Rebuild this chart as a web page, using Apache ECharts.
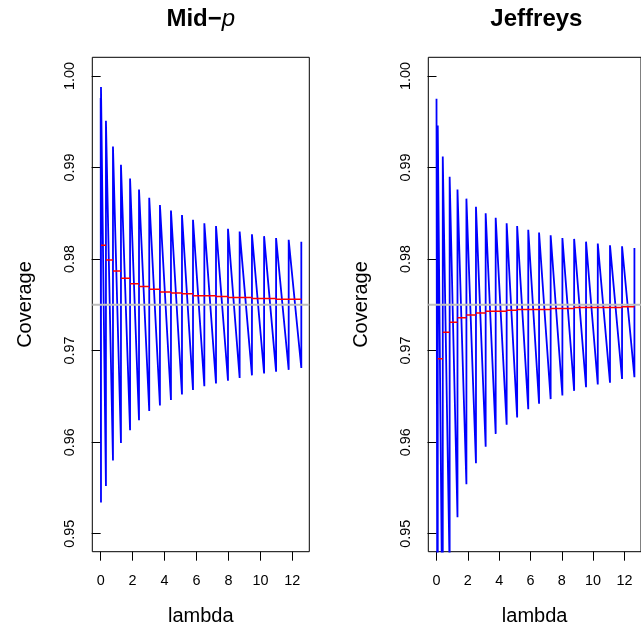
<!DOCTYPE html>
<html>
<head>
<meta charset="utf-8">
<script src="https://cdn.jsdelivr.net/npm/echarts@6/dist/echarts.min.js"></script>
<style>
  html, body { margin: 0; padding: 0; background: #fff; }
  #chart { width: 641px; height: 632px; }
</style>
</head>
<body>
<div id="chart"></div>
<script>
// Axis ticks shared by both panels
const xTicks = [0, 2, 4, 6, 8, 10, 12];
const yTicks = [0.95, 0.96, 0.97, 0.98, 0.99, 1.00];

// Mid-p interval: coverage jumps (lambda), value just before and just after each jump
const midpStart = 0.9976;
const midpJumps = [0.02, 0.33, 0.77, 1.27, 1.84, 2.40, 3.04, 3.71, 4.40, 5.09,
                   5.78, 6.49, 7.22, 7.97, 8.70, 9.47, 10.23, 10.98, 11.77, 12.56];
const midpTroughs = [0.9534, 0.9552, 0.9580, 0.9599, 0.9613, 0.9624, 0.9634, 0.9640, 0.9646, 0.9652,
                     0.9657, 0.9661, 0.9664, 0.9667, 0.9670, 0.9673, 0.9675, 0.9677, 0.9679, 0.9681];
const midpPeaks = [0.9988, 0.9951, 0.9923, 0.9903, 0.9888, 0.9876, 0.9867, 0.9859, 0.9853, 0.9848,
                   0.9843, 0.9839, 0.9836, 0.9833, 0.9830, 0.9827, 0.9825, 0.9823, 0.9821, 0.9819];
// Mid-p average coverage between consecutive jumps (first piece starts at lambda = 0)
const midpAvg = [0.9753, 0.9815, 0.9799, 0.9787, 0.9779, 0.9773, 0.9770, 0.9767, 0.9764, 0.9763,
                 0.9762, 0.9760, 0.9760, 0.9759, 0.9758, 0.9758, 0.9757, 0.9757, 0.9756, 0.9756];

// Jeffreys interval
const jeffStart = 0.9975;
const jeffJumps = [0.08, 0.40, 0.84, 1.34, 1.91, 2.52, 3.14, 3.78, 4.48, 5.15,
                   5.86, 6.55, 7.29, 8.04, 8.79, 9.55, 10.30, 11.08, 11.85, 12.64];
const jeffTroughs = [0.900, 0.935, 0.946, 0.9518, 0.9554, 0.9577, 0.9595, 0.9609, 0.9619, 0.9627,
                     0.9636, 0.9642, 0.9647, 0.9651, 0.9656, 0.9660, 0.9663, 0.9665, 0.9669, 0.9671];
const jeffPeaks = [0.9946, 0.9912, 0.9890, 0.9876, 0.9866, 0.9857, 0.9850, 0.9845, 0.9839, 0.9836,
                   0.9832, 0.9829, 0.9826, 0.9823, 0.9822, 0.9819, 0.9817, 0.9815, 0.9814, 0.9812];
const jeffAvg = [0.9691, 0.9720, 0.9731, 0.9736, 0.9739, 0.9741, 0.9743, 0.9743, 0.9744, 0.9745,
                 0.9745, 0.9745, 0.9746, 0.9746, 0.9747, 0.9747, 0.9747, 0.9747, 0.9748];

const nominal = 0.975;
const xMin = -0.524, xMax = 13.06;

// Sawtooth: decline between jumps, vertical rise at each jump
function sawtooth(start, jumps, troughs, peaks) {
  const d = [[0, start]];
  for (let i = 0; i < jumps.length; i++) {
    d.push([jumps[i], troughs[i]], [jumps[i], peaks[i]]);
  }
  return d;
}
// Horizontal pieces only, broken between intervals
function steps(edges, vals) {
  const d = [];
  for (let i = 0; i < vals.length; i++) {
    d.push([edges[i], vals[i]], [edges[i + 1], vals[i]], [edges[i + 1], '-']);
  }
  return d;
}

const FONT = 'Liberation Sans, Arial, Helvetica, sans-serif';
const gridTop = 57.3, gridH = 494.4, gridW = 217;
const lefts = [92.3, 428.3];

function xAxis(i) {
  return {
    type: 'value', gridIndex: i, min: xMin, max: xMax,
    name: 'lambda', nameLocation: 'middle', nameGap: 55,
    nameTextStyle: { fontFamily: FONT, fontSize: 20, color: '#000' },
    axisLine: { show: false },
    splitLine: { show: false },
    axisTick: { show: true, inside: false, length: 9, customValues: xTicks,
                lineStyle: { color: '#000', width: 1 } },
    axisLabel: { customValues: xTicks, margin: 22, fontFamily: FONT, fontSize: 14.4, color: '#000' }
  };
}
function yAxis(i) {
  return {
    type: 'value', gridIndex: i, min: 0.94803, max: 1.00204,
    name: 'Coverage', nameLocation: 'middle', nameGap: 57, nameRotate: 90,
    nameTextStyle: { fontFamily: FONT, fontSize: 20, color: '#000' },
    axisLine: { show: false },
    splitLine: { show: false },
    axisTick: { show: true, inside: false, length: 9, customValues: yTicks,
                lineStyle: { color: '#000', width: 1 } },
    axisLabel: { customValues: yTicks, rotate: 90, margin: 15, fontFamily: FONT, fontSize: 14.4,
                 color: '#000', formatter: v => v.toFixed(2) }
  };
}

function panelSeries(i, blue, red) {
  return [
    { type: 'line', xAxisIndex: i, yAxisIndex: i, data: blue, showSymbol: false, symbol: 'none',
      lineStyle: { color: '#0000ff', width: 1.8 }, z: 2, clip: true, animation: false },
    { type: 'line', xAxisIndex: i, yAxisIndex: i, data: red, showSymbol: false, symbol: 'none',
      connectNulls: false, lineStyle: { color: '#ff0000', width: 1.5 }, z: 3, clip: true, animation: false },
    // reference level across the full panel
    { type: 'line', xAxisIndex: i, yAxisIndex: i, data: [[xMin, nominal], [xMax, nominal]],
      showSymbol: false, symbol: 'none', lineStyle: { color: '#bebebe', width: 2 },
      z: 4, clip: true, animation: false }
  ];
}

const chart = echarts.init(document.getElementById('chart'), null, { renderer: 'canvas' });
chart.setOption({
  backgroundColor: '#fff',
  animation: false,
  grid: lefts.map(l => ({
    left: l, top: gridTop, width: gridW, height: gridH,
    show: true, borderColor: '#000', borderWidth: 1, backgroundColor: 'transparent'
  })),
  xAxis: [xAxis(0), xAxis(1)],
  yAxis: [yAxis(0), yAxis(1)],
  series: [
    ...panelSeries(0, sawtooth(midpStart, midpJumps, midpTroughs, midpPeaks),
                   steps([0, ...midpJumps], midpAvg)),
    ...panelSeries(1, sawtooth(jeffStart, jeffJumps, jeffTroughs, jeffPeaks),
                   steps(jeffJumps, jeffAvg))
  ],
  graphic: [
    { type: 'text', x: 200.8, y: 19,
      style: { text: '{b|Mid\u2212}{i|p}', align: 'center', verticalAlign: 'middle',
               rich: { b: { fontFamily: FONT, fontWeight: 'bold', fontSize: 24, fill: '#000' },
                       i: { fontFamily: FONT, fontStyle: 'italic', fontSize: 24, fill: '#000' } } } },
    { type: 'text', x: 536.4, y: 19,
      style: { text: 'Jeffreys', align: 'center', verticalAlign: 'middle',
               font: 'bold 24px ' + FONT, fill: '#000' } }
  ]
});
</script>
</body>
</html>
